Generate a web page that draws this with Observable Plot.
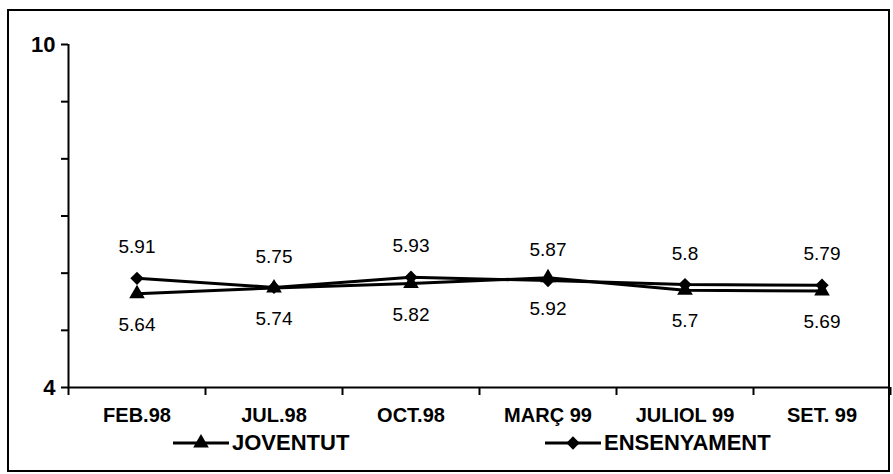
<!DOCTYPE html>
<html><head><meta charset="utf-8">
<script src="https://cdn.jsdelivr.net/npm/d3@7"></script>
<script src="https://cdn.jsdelivr.net/npm/@observablehq/plot@0.6"></script>
<style>
body{margin:0;background:#fff;font-family:"Liberation Sans",Arial,sans-serif;}
#wrap{position:relative;width:893px;height:474px;overflow:hidden;}
#chart{position:absolute;left:0;top:0;}
#frame{position:absolute;left:7px;top:9px;width:883px;height:463px;border:2px solid #000;box-sizing:border-box;pointer-events:none;}
#legend{position:absolute;left:0;top:430px;width:893px;height:26px;}
.item{position:absolute;top:0;height:26px;display:flex;align-items:center;font-size:22px;font-weight:bold;color:#000;}
.item svg{margin-right:3px;}
</style></head><body>
<div id="wrap"><div id="chart"></div><div id="legend"></div><div id="frame"></div></div>
<script>
const categories = ["FEB.98","JUL.98","OCT.98","MARÇ 99","JULIOL 99","SET. 99"];
const joventut = [5.64, 5.74, 5.82, 5.92, 5.7, 5.69];
const ensenyament = [5.91, 5.75, 5.93, 5.87, 5.8, 5.79];
const seriesNames = ["JOVENTUT", "ENSENYAMENT"];
const yTicks = [4, 5, 6, 7, 8, 9, 10];
const yTickLabels = {4: "4", 10: "10"};

const rows = [];
categories.forEach((c, i) => {
  rows.push({i, cat: c, series: seriesNames[0], value: joventut[i]});
  rows.push({i, cat: c, series: seriesNames[1], value: ensenyament[i]});
});
const jov = rows.filter(d => d.series === seriesNames[0]);
const ens = rows.filter(d => d.series === seriesNames[1]);
const xc = d => d.i + 0.5;
const rTri = 5.8, rDia = 6;

const chart = Plot.plot({
  width: 893,
  height: 432,
  marginLeft: 68,
  marginRight: 3,
  marginTop: 44,
  marginBottom: 45,
  style: {fontFamily: "'Liberation Sans', Arial, sans-serif", background: "transparent", color: "#000"},
  x: {type: "linear", domain: [0, categories.length], label: null},
  y: {type: "linear", domain: [4, 10], label: null},
  marks: [
    Plot.axisY({ticks: yTicks, tickSize: 7, tickPadding: 6, strokeWidth: 2, label: null,
      tickFormat: d => yTickLabels[d] ?? "", fontSize: 22, fontWeight: "bold"}),
    Plot.axisX({ticks: d3.range(0, categories.length + 1), tickSize: 8, strokeWidth: 2, label: null, tickFormat: () => ""}),
    Plot.axisX({ticks: categories.map((c, i) => i + 0.5), tickSize: 0, tickPadding: 20, label: null,
      tickFormat: d => categories[Math.floor(d)], fontSize: 20, fontWeight: "bold"}),
    Plot.ruleY([4], {strokeWidth: 2}),
    Plot.ruleX([0], {strokeWidth: 2}),
    Plot.line(rows, {x: xc, y: "value", z: "series", stroke: "#000", strokeWidth: 3}),
    Plot.dot(jov, {x: xc, y: "value", symbol: "triangle", r: rTri, fill: "#000", stroke: "none"}),
    Plot.dot(ens, {x: xc, y: "value", symbol: "diamond2", r: rDia, fill: "#000", stroke: "none"}),
    Plot.text(ens, {x: xc, y: "value", text: d => String(d.value), dy: -31, fontSize: 19, fill: "#000"}),
    Plot.text(jov, {x: xc, y: "value", text: d => String(d.value), dy: 31, fontSize: 19, fill: "#000"})
  ]
});
document.getElementById("chart").appendChild(chart);

// legend
const legend = document.getElementById("legend");
const legendPos = [173, 545];
seriesNames.forEach((name, k) => {
  const item = document.createElement("div");
  item.className = "item";
  item.style.left = legendPos[k] + "px";
  const sym = k === 0 ? d3.symbol(d3.symbolTriangle, Math.PI * rTri * rTri)() : d3.symbol(d3.symbolDiamond2, Math.PI * rDia * rDia)();
  item.innerHTML = `<svg width="56" height="20" viewBox="0 0 56 20"><line x1="0" x2="56" y1="10" y2="10" stroke="#000" stroke-width="3"/><path d="${sym}" transform="translate(28,10)" fill="#000"/></svg><span>${name}</span>`;
  legend.appendChild(item);
});
</script>
</body></html>
